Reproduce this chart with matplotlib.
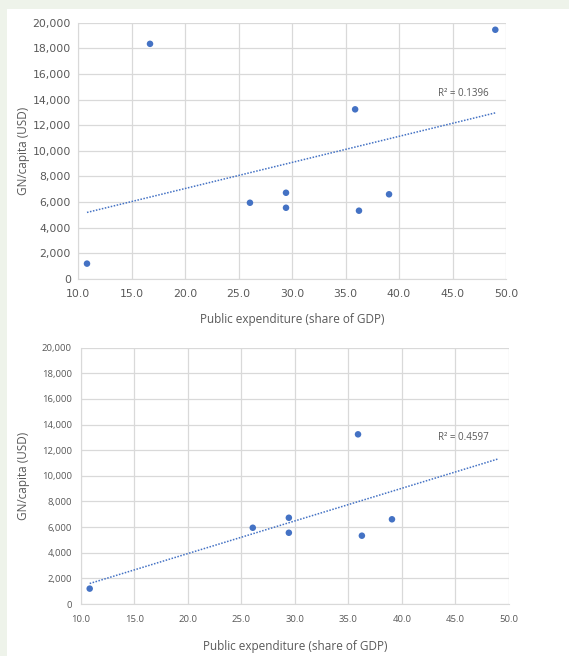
import numpy as np
import matplotlib
matplotlib.use('Agg')
import matplotlib.pyplot as plt
from matplotlib.patches import Rectangle

# data
expenditure_all = [10.84, 16.73, 49.0, 35.9, 26.07, 29.44, 29.44, 36.26, 39.07]
gni_all = [1200, 18350, 19450, 13240, 5950, 6730, 5560, 5330, 6610]

expenditure_sub = [10.84, 35.9, 26.07, 29.44, 29.44, 36.26, 39.07]
gni_sub = [1200, 13240, 5950, 6730, 5560, 5330, 6610]

r2_labels = ["R² = 0.1396", "R² = 0.4597"]
trend_end = 49.0

x_ticks = [10, 15, 20, 25, 30, 35, 40, 45, 50]
y_ticks = [0, 2000, 4000, 6000, 8000, 10000, 12000, 14000, 16000, 18000, 20000]

blue = '#4472c4'
grey_txt = '#595959'
grid_col = '#d9d9d9'

plt.rcParams['font.family'] = ['Open Sans', 'DejaVu Sans']

fig = plt.figure(figsize=(5.69, 6.56), dpi=100)
fig.patch.set_facecolor('#eef3ea')
W, H = 569, 656
fig.add_artist(Rectangle((7 / W, 0), 1, 1 - 9 / H, transform=fig.transFigure,
                         facecolor='white', edgecolor='none', zorder=0))


def panel(rect, xs, ys, label, label_pos, tick_font, tick_size, ypad, xpad, xlab_y, ylab_x):
    ax = fig.add_axes(rect)
    ax.set_facecolor('white')
    ax.scatter(xs, ys, s=22, color=blue, zorder=3, edgecolors='none')
    k, b = np.polyfit(xs, ys, 1)
    tx = np.array([min(xs), trend_end])
    ax.plot(tx, k * tx + b, color=blue, lw=1.1, ls=(0, (1, 1)), zorder=2)
    ax.text(label_pos[0], label_pos[1], label, fontsize=7, color=grey_txt,
            ha='center', va='center',
            family=['Liberation Sans Narrow', 'Open Sans', 'DejaVu Sans'])
    ax.set_xlim(10, 50)
    ax.set_ylim(0, 20000)
    ax.set_xticks(x_ticks)
    ax.set_xticklabels([f"{v:.1f}" for v in x_ticks])
    ax.set_yticks(y_ticks)
    ax.set_yticklabels([f"{v:,}" for v in y_ticks])
    for t in ax.get_xticklabels() + ax.get_yticklabels():
        t.set_family(tick_font)
    ax.grid(True, color=grid_col, lw=0.9)
    ax.set_axisbelow(True)
    for s in ax.spines.values():
        s.set_visible(False)
    ax.spines['left'].set_visible(True)
    ax.spines['bottom'].set_visible(True)
    ax.spines['left'].set_color(grid_col)
    ax.spines['bottom'].set_color(grid_col)
    ax.tick_params(length=0, labelsize=tick_size, colors=grey_txt)
    ax.tick_params(axis='y', pad=ypad)
    ax.tick_params(axis='x', pad=xpad)
    ax.set_xlabel('Public expenditure (share of GDP)', fontsize=8.5, color=grey_txt, va='center')
    ax.set_ylabel('GN/capita (USD)', fontsize=8.5, color=grey_txt, va='center')
    ax.xaxis.set_label_coords(0.5, xlab_y)
    ax.yaxis.set_label_coords(ylab_x, 0.5)
    return ax


# top: plot area x 78..506, y 22.7..279
panel([78 / W, 1 - 279 / H, 428 / W, 256.3 / H], expenditure_all, gni_all,
      r2_labels[0], (46.0, 14500), 'DejaVu Sans', 7.8, 5, 7.5, -0.157, -0.1285)
# bottom: plot area x 80.7..509, y 347.7..604
panel([80.7 / W, 1 - 604 / H, 428.3 / W, 256.3 / H], expenditure_sub, gni_sub,
      r2_labels[1], (45.7, 13000), 'Open Sans', 6.8, 6.3, 8, -0.164, -0.134)

fig.savefig('out.png', dpi=100, facecolor=fig.get_facecolor())
